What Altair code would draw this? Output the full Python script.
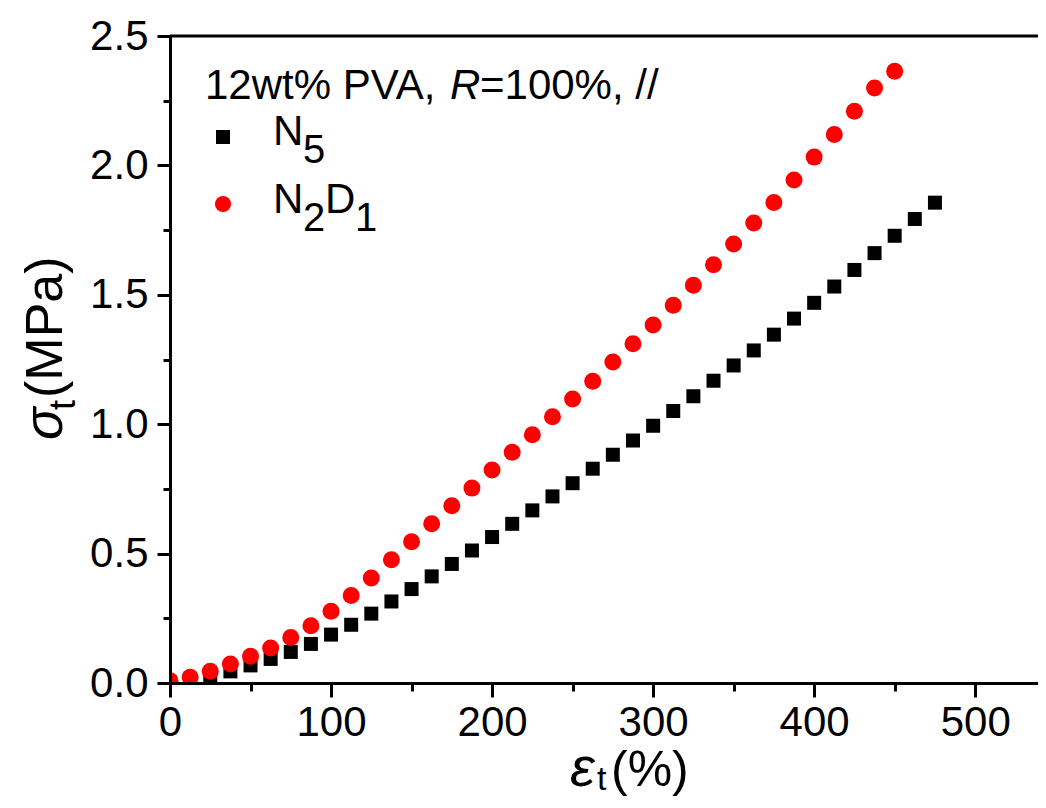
import altair as alt
import pandas as pd

FONT = "Liberation Sans"

# ---- data ----
strain_n5 = [0, 12.5, 25, 37.5, 50, 62.5, 75, 87.5, 100, 112.5, 125, 137.5, 150,
             162.5, 175, 187.5, 200, 212.5, 225, 237.5, 250, 262.5, 275, 287.5,
             300, 312.5, 325, 337.5, 350, 362.5, 375, 387.5, 400, 412.5, 425,
             437.5, 450, 462.5, 475]
stress_n5 = [0.002, 0.013, 0.026, 0.045, 0.068, 0.093, 0.120, 0.151, 0.187, 0.225,
             0.268, 0.315, 0.363, 0.412, 0.460, 0.512, 0.564, 0.615, 0.667, 0.721,
             0.772, 0.828, 0.882, 0.937, 0.994, 1.051, 1.108, 1.168, 1.227, 1.285,
             1.346, 1.408, 1.469, 1.532, 1.596, 1.661, 1.728, 1.793, 1.856]

strain_n2d1 = [0, 12.5, 25, 37.5, 50, 62.5, 75, 87.5, 100, 112.5, 125, 137.5, 150,
               162.5, 175, 187.5, 200, 212.5, 225, 237.5, 250, 262.5, 275, 287.5,
               300, 312.5, 325, 337.5, 350, 362.5, 375, 387.5, 400, 412.5, 425,
               437.5, 450]
stress_n2d1 = [0.009, 0.022, 0.045, 0.073, 0.103, 0.135, 0.176, 0.221, 0.277, 0.338,
               0.406, 0.476, 0.546, 0.615, 0.685, 0.753, 0.823, 0.892, 0.959, 1.029,
               1.097, 1.166, 1.240, 1.311, 1.383, 1.460, 1.537, 1.616, 1.696, 1.777,
               1.857, 1.944, 2.032, 2.119, 2.209, 2.299, 2.364]

x_major = [0, 100, 200, 300, 400, 500]
x_minor = [50, 150, 250, 350, 450]
y_major = [0, 0.5, 1.0, 1.5, 2.0, 2.5]
y_minor = [0.25, 0.75, 1.25, 1.75, 2.25]

df_n5 = pd.DataFrame({"strain": strain_n5, "stress": stress_n5})
df_n2d1 = pd.DataFrame({"strain": strain_n2d1, "stress": stress_n2d1})
one = pd.DataFrame({"k": [0]})

W, H = 868, 647
xscale = alt.Scale(domain=[0, 539], nice=False, zero=False)
yscale = alt.Scale(domain=[0, 2.5], nice=False, zero=False)

common_axis = dict(title=None, grid=False, tickWidth=3, tickColor="black",
                   domainColor="black", domainWidth=3, labelFont=FONT,
                   labelFontSize=42, labelColor="black", labelFlush=False,
                   labelOverlap=False, zindex=1)

black = alt.Chart(df_n5).mark_point(
    shape="square", filled=True, size=196, color="black", opacity=1, clip=True
).encode(
    x=alt.X("strain:Q", scale=xscale,
            axis=alt.Axis(values=x_major, orient="bottom", tickSize=14,
                          labelPadding=5, **common_axis)),
    y=alt.Y("stress:Q", scale=yscale,
            axis=alt.Axis(values=y_major, orient="left", format=".1f",
                          tickSize=13, labelPadding=9, **common_axis)),
)

red = alt.Chart(df_n2d1).mark_point(
    shape="circle", filled=True, size=289, color="#ff0000", opacity=1, clip=True
).encode(
    x=alt.X("strain:Q", scale=xscale,
            axis=alt.Axis(values=x_minor, orient="bottom", labels=False, domain=False,
                          tickSize=8, title=None, grid=False, tickWidth=3,
                          tickColor="black", zindex=1)),
    y=alt.Y("stress:Q", scale=yscale,
            axis=alt.Axis(values=y_minor, orient="left", labels=False, domain=False,
                          tickSize=7, title=None, grid=False, tickWidth=3,
                          tickColor="black", zindex=1)),
)

top_line = alt.Chart(one).mark_rule(color="black", strokeWidth=3).encode(
    x=alt.value(0), x2=alt.value(W), y=alt.value(0)
)


def txt(s, x, y, size, italic=False, angle=None):
    kw = dict(text=s, align="left", baseline="alphabetic", font=FONT,
              fontSize=size, color="black")
    if italic:
        kw["fontStyle"] = "italic"
    if angle is not None:
        kw["angle"] = angle
    return alt.Chart(one).mark_text(**kw).encode(x=alt.value(x), y=alt.value(y))


def sym(shape, color, size, x, y):
    return alt.Chart(one).mark_point(shape=shape, filled=True, size=size,
                                     color=color, opacity=1).encode(
        x=alt.value(x), y=alt.value(y))


texts = [
    # legend header
    txt("12wt% PVA, ", 35, 63, 42),
    txt("R", 280, 63, 42, italic=True),
    txt("=100%, //", 310, 63, 42),
    # legend entries
    sym("square", "black", 196, 53, 101),
    txt("N", 103, 109, 42),
    txt("5", 133, 127, 40),
    sym("circle", "#ff0000", 260, 53, 168),
    txt("N", 103, 177, 42),
    txt("2", 133, 195, 40),
    txt("D", 155, 177, 42),
    txt("1", 185, 195, 40),
    # x title
    txt("\u03b5", 400, 750, 56, italic=True),
    txt("t", 427, 754, 34),
    txt("(%)", 441, 750, 50),
    # y title
    txt("\u03c3", -108, 404, 54, italic=True, angle=270),
    txt("t", -95, 374, 36, angle=270),
    txt("(MPa)", -108, 362, 52, angle=270),
]

chart = alt.layer(black, red, top_line, *texts).resolve_axis(
    x="independent", y="independent"
).properties(
    width=W, height=H,
    autosize=alt.AutoSizeParams(type="none"),
    padding={"left": 162, "top": 28, "right": 0, "bottom": 117},
    background="white",
).configure_view(stroke=None)

chart.save("out.html", embed_options={"renderer": "svg", "actions": False})
